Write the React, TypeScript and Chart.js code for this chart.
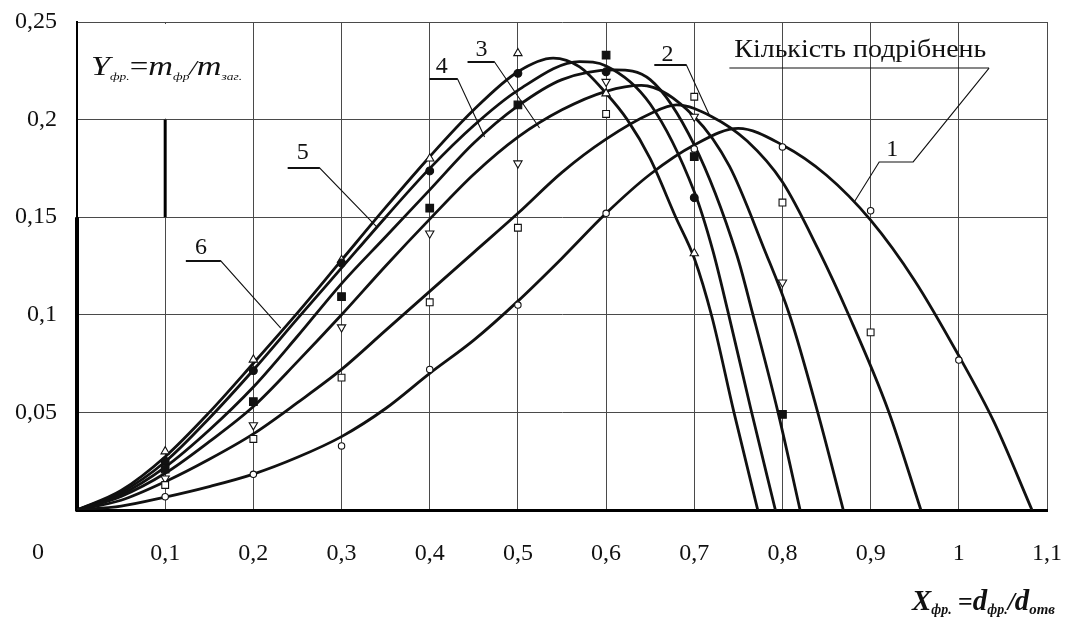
import React, { useEffect, useRef } from 'react';
import { Chart, registerables } from 'chart.js';

Chart.register(...registerables);

// ---------- fitted curves ----------
// curve 1 (one grinding) – open circles
const curve1X = [0, 0.05, 0.1, 0.15, 0.2, 0.25, 0.3, 0.35, 0.4, 0.45, 0.5, 0.55, 0.6, 0.65, 0.7, 0.75, 0.8, 0.85, 0.9, 0.95, 1.0, 1.04, 1.083];
const curve1Y = [0, 0.002, 0.0066, 0.012, 0.0184, 0.027, 0.0376, 0.052, 0.07, 0.087, 0.107, 0.129, 0.152, 0.172, 0.187, 0.1955, 0.187, 0.1715, 0.1485, 0.1175, 0.079, 0.045, 0];
// curve 2 – open squares
const curve2X = [0, 0.05, 0.1, 0.15, 0.2, 0.25, 0.3, 0.35, 0.4, 0.45, 0.5, 0.55, 0.6, 0.65, 0.68, 0.72, 0.76, 0.8, 0.84, 0.875, 0.92, 0.957];
const curve2Y = [0, 0.005, 0.0145, 0.026, 0.039, 0.055, 0.072, 0.092, 0.112, 0.132, 0.152, 0.173, 0.19, 0.203, 0.2075, 0.2015, 0.189, 0.168, 0.134, 0.1, 0.051, 0];
// curve 3 – open inverted triangles
const curve3X = [0, 0.05, 0.1, 0.15, 0.2, 0.25, 0.3, 0.35, 0.4, 0.45, 0.5, 0.55, 0.6, 0.64, 0.7, 0.74, 0.779, 0.808, 0.84, 0.869];
const curve3Y = [0, 0.007, 0.0188, 0.035, 0.053, 0.076, 0.1, 0.125, 0.149, 0.172, 0.191, 0.205, 0.2145, 0.2175, 0.2015, 0.176, 0.134, 0.1, 0.05, 0];
// curve 4 – filled squares
const curve4X = [0, 0.05, 0.1, 0.15, 0.2, 0.25, 0.3, 0.35, 0.4, 0.45, 0.5, 0.55, 0.61, 0.65, 0.7, 0.748, 0.766, 0.795, 0.82];
const curve4Y = [0, 0.008, 0.022, 0.041, 0.063, 0.089, 0.116, 0.14, 0.164, 0.188, 0.207, 0.2205, 0.2255, 0.2205, 0.187, 0.131, 0.101, 0.05, 0];
// curve 5 – filled circles
const curve5X = [0, 0.05, 0.1, 0.15, 0.2, 0.25, 0.3, 0.35, 0.4, 0.45, 0.5, 0.57, 0.6, 0.65, 0.7, 0.721, 0.738, 0.764, 0.792];
const curve5Y = [0, 0.009, 0.0247, 0.047, 0.0717, 0.098, 0.124, 0.15, 0.175, 0.197, 0.215, 0.2297, 0.2275, 0.208, 0.163, 0.133, 0.102, 0.052, 0];
// curve 6 – open triangles
const curve6X = [0, 0.05, 0.1, 0.15, 0.2, 0.25, 0.3, 0.35, 0.4, 0.45, 0.5, 0.54, 0.57, 0.6, 0.624, 0.65, 0.679, 0.7, 0.72, 0.745, 0.772];
const curve6Y = [0, 0.01, 0.0273, 0.05, 0.0752, 0.101, 0.128, 0.155, 0.181, 0.205, 0.2245, 0.2315, 0.227, 0.2135, 0.2, 0.18, 0.15, 0.129, 0.099, 0.05, 0];

// ---------- measured points ----------
const circleOpenX = [0.1, 0.2, 0.3, 0.4, 0.5, 0.6, 0.7, 0.8, 0.9, 1.0];
const circleOpenY = [0.0068, 0.0183, 0.0328, 0.072, 0.105, 0.152, 0.185, 0.186, 0.1533, 0.0768];
const squareOpenX = [0.1, 0.2, 0.3, 0.4, 0.5, 0.6, 0.7, 0.8, 0.9];
const squareOpenY = [0.0128, 0.0364, 0.0678, 0.1064, 0.1446, 0.2029, 0.2117, 0.1575, 0.091];
const triDownX = [0.1, 0.2, 0.3, 0.4, 0.5, 0.6, 0.7, 0.8];
const triDownY = [0.0162, 0.0435, 0.0936, 0.1417, 0.1776, 0.2194, 0.2015, 0.1166];
const squareFillX = [0.1, 0.2, 0.3, 0.4, 0.5, 0.6, 0.7, 0.8];
const squareFillY = [0.021, 0.0555, 0.1093, 0.1546, 0.2075, 0.233, 0.181, 0.049];
const circleFillX = [0.1, 0.2, 0.3, 0.4, 0.5, 0.6, 0.7];
const circleFillY = [0.025, 0.0714, 0.1265, 0.1737, 0.2237, 0.2245, 0.16];
const triUpX = [0.1, 0.2, 0.3, 0.4, 0.5, 0.6, 0.7];
const triUpY = [0.03, 0.077, 0.128, 0.18, 0.234, 0.2134, 0.1315];

// ---------- axis ticks ----------
const xMin = 0, xMax = 1.1, xStep = 0.1;
const yMin = 0, yMax = 0.25, yStep = 0.05;

// ---------- annotations (data coordinates) ----------
const curveLabels = ['1', '2', '3', '4', '5', '6'];
const curveLabelX = [0.9244, 0.6695, 0.4588, 0.4135, 0.256, 0.1405];
const curveLabelY = [0.1844, 0.2331, 0.2357, 0.227, 0.1829, 0.1342];
const leaderLines: number[][][] = [
  [[1.0343, 0.2264], [0.9482, 0.1783], [0.9097, 0.1783], [0.8814, 0.1578]],
  [[0.6548, 0.228], [0.6911, 0.228], [0.7171, 0.2024]],
  [[0.443, 0.2295], [0.4735, 0.2295], [0.5245, 0.1957]],
  [[0.3999, 0.2208], [0.4316, 0.2208], [0.4622, 0.1911]],
  [[0.239, 0.1752], [0.2753, 0.1752], [0.3399, 0.145]],
  [[0.1235, 0.1276], [0.163, 0.1276], [0.2311, 0.0932]],
  [[0.7398, 0.2264], [1.0343, 0.2264]],
];
const legendTitle = 'Кількість подрібнень';

const SERIF = '"Liberation Serif", "DejaVu Serif", serif';

function fmt(v: number): string {
  if (Math.abs(v) < 1e-9) return '';
  return String(Math.round(v * 100) / 100).replace('.', ',');
}

function pts(xs: number[], ys: number[]) {
  return xs.map((x, i) => ({ x, y: ys[i] }));
}

type Part = { t: string; font: string; dy: number };

function drawParts(ctx: CanvasRenderingContext2D, parts: Part[], x: number, baseline: number, width: number) {
  let total = 0;
  const ws = parts.map((p) => {
    ctx.font = p.font;
    const w = ctx.measureText(p.t).width;
    total += w;
    return w;
  });
  const sx = width / total;
  ctx.save();
  ctx.translate(x, baseline);
  ctx.scale(sx, 1);
  ctx.textBaseline = 'alphabetic';
  ctx.textAlign = 'left';
  ctx.fillStyle = '#111';
  let cx = 0;
  parts.forEach((p, i) => {
    ctx.font = p.font;
    ctx.fillText(p.t, cx, p.dy);
    cx += ws[i];
  });
  ctx.restore();
}

const decorPlugin = {
  id: 'decor',
  beforeDatasetsDraw(chart: any) {
    const { ctx } = chart;
    const xs = chart.scales.x;
    const ys = chart.scales.y;
    const px = (v: number) => xs.getPixelForValue(v);
    const py = (v: number) => ys.getPixelForValue(v);
    ctx.save();
    ctx.lineCap = 'butt';
    // gap in the 0,1 grid line behind the formula
    ctx.strokeStyle = '#fff';
    ctx.lineWidth = 3;
    ctx.beginPath();
    ctx.moveTo(px(0.1), py(0.25) + 2);
    ctx.lineTo(px(0.1), py(0.2) - 1);
    ctx.stroke();
    // heavy segment
    ctx.strokeStyle = '#000';
    ctx.lineWidth = 3;
    ctx.beginPath();
    ctx.moveTo(px(0.1), py(0.2));
    ctx.lineTo(px(0.1), py(0.15));
    ctx.stroke();
    // heavy lower part of the y axis
    ctx.lineWidth = 4;
    ctx.beginPath();
    ctx.moveTo(px(0), py(0.15));
    ctx.lineTo(px(0), py(0) + 1.5);
    ctx.stroke();
    ctx.restore();
  },
  afterDraw(chart: any) {
    const { ctx } = chart;
    const xs = chart.scales.x;
    const ys = chart.scales.y;
    const px = (v: number) => xs.getPixelForValue(v);
    const py = (v: number) => ys.getPixelForValue(v);
    ctx.save();
    // leader lines
    ctx.strokeStyle = '#111';
    ctx.lineWidth = 1.1;
    leaderLines.forEach((line) => {
      ctx.beginPath();
      line.forEach((p, i) => {
        if (i === 0) ctx.moveTo(px(p[0]), py(p[1]));
        else ctx.lineTo(px(p[0]), py(p[1]));
      });
      ctx.stroke();
    });
    // underlines of numbers are heavier
    ctx.lineWidth = 2;
    leaderLines.slice(1, 6).forEach((line) => {
      ctx.beginPath();
      ctx.moveTo(px(line[0][0]), py(line[0][1]));
      ctx.lineTo(px(line[1][0]), py(line[1][1]));
      ctx.stroke();
    });
    // numbers
    ctx.fillStyle = '#111';
    ctx.textAlign = 'center';
    ctx.textBaseline = 'middle';
    ctx.font = `24px ${SERIF}`;
    curveLabels.forEach((t, i) => {
      ctx.fillText(t, px(curveLabelX[i]), py(curveLabelY[i]));
    });
    // legend title
    ctx.font = `25px ${SERIF}`;
    const tw = ctx.measureText(legendTitle).width;
    ctx.save();
    ctx.translate(px(0.7454), py(0.2228) - 18);
    ctx.scale(252 / tw, 1);
    ctx.textAlign = 'left';
    ctx.textBaseline = 'alphabetic';
    ctx.fillText(legendTitle, 0, 0);
    ctx.restore();
    // origin label
    ctx.font = `24px ${SERIF}`;
    ctx.textAlign = 'center';
    ctx.textBaseline = 'middle';
    ctx.fillText('0', px(0) - 39, ys.bottom + 43);
    // Y formula
    const it = (s: number) => `italic ${s}px ${SERIF}`;
    const bi = (s: number) => `italic bold ${s}px ${SERIF}`;
    drawParts(ctx, [
      { t: 'Y', font: it(28), dy: 0 },
      { t: 'фр.', font: it(11), dy: 5 },
      { t: '=', font: `27px ${SERIF}`, dy: 0 },
      { t: 'm', font: it(28), dy: 0 },
      { t: 'фр', font: it(11), dy: 5 },
      { t: '/', font: it(22), dy: 0 },
      { t: 'm', font: it(28), dy: 0 },
      { t: 'заг.', font: it(11), dy: 5 },
    ], px(0) + 14, py(0.25) + 53, 151);
    // X formula
    drawParts(ctx, [
      { t: 'X', font: bi(29), dy: 0 },
      { t: 'фр.', font: bi(14), dy: 4 },
      { t: ' =', font: `bold 26px ${SERIF}`, dy: 0 },
      { t: 'd', font: bi(29), dy: 0 },
      { t: 'фр.', font: bi(14), dy: 4 },
      { t: '/', font: bi(26), dy: 0 },
      { t: 'd', font: bi(29), dy: 0 },
      { t: 'отв', font: bi(15), dy: 4 },
    ], px(1.1) - 135, ys.bottom + 100, 143);
    ctx.restore();
  },
};

export default function App() {
  const ref = useRef<HTMLCanvasElement | null>(null);

  useEffect(() => {
    if (!ref.current) return;
    const curveSets = [
      [curve1X, curve1Y],
      [curve2X, curve2Y],
      [curve3X, curve3Y],
      [curve4X, curve4Y],
      [curve5X, curve5Y],
      [curve6X, curve6Y],
    ].map(([xs, ys], i) => ({
      label: `curve ${i + 1}`,
      data: pts(xs, ys),
      showLine: true,
      borderColor: '#111',
      borderWidth: 2.8,
      pointRadius: 0,
      pointHoverRadius: 0,
      cubicInterpolationMode: 'monotone' as const,
      fill: false,
      order: 2,
    }));
    const markerSet = (label: string, xs: number[], ys: number[], style: string, radius: number, filled: boolean, rotation = 0) => ({
      label,
      data: pts(xs, ys),
      showLine: false,
      pointStyle: style,
      pointRadius: radius,
      pointHoverRadius: radius,
      pointRotation: rotation,
      pointBackgroundColor: filled ? '#111' : '#fff',
      pointBorderColor: '#111',
      pointBorderWidth: 1.1,
      order: 1,
    });
    const markers = [
      markerSet('○', circleOpenX, circleOpenY, 'circle', 3.2, false),
      markerSet('□', squareOpenX, squareOpenY, 'rect', 4.8, false),
      markerSet('▽', triDownX, triDownY, 'triangle', 4.8, false, 180),
      markerSet('■', squareFillX, squareFillY, 'rect', 5.4, true),
      markerSet('●', circleFillX, circleFillY, 'circle', 3.9, true),
      markerSet('△', triUpX, triUpY, 'triangle', 4.8, false),
    ];

    const chart = new Chart(ref.current, {
      type: 'scatter',
      data: { datasets: [...markers, ...curveSets] as any },
      plugins: [decorPlugin as any],
      options: {
        animation: false,
        responsive: false,
        maintainAspectRatio: false,
        events: [],
        layout: { padding: { left: 0, right: 19, top: 22, bottom: 0 } },
        plugins: {
          legend: { display: false },
          tooltip: { enabled: false },
        },
        scales: {
          x: {
            type: 'linear',
            min: xMin,
            max: xMax,
            afterFit: (s: any) => { s.height = 113; s.paddingLeft = 0; s.paddingRight = 0; },
            ticks: {
              stepSize: xStep,
              padding: 29,
              color: '#111',
              font: { family: SERIF, size: 24 },
              callback: (v: any) => fmt(Number(v)),
              autoSkip: false,
              maxRotation: 0,
            },
            grid: { color: '#4a4a4a', lineWidth: 1, drawTicks: false },
            border: { display: true, color: '#000', width: 3 },
          },
          y: {
            type: 'linear',
            min: yMin,
            max: yMax,
            afterFit: (s: any) => { s.width = 77; s.paddingTop = 0; s.paddingBottom = 0; },
            ticks: {
              stepSize: yStep,
              padding: 20,
              color: '#111',
              font: { family: SERIF, size: 24 },
              callback: (v: any) => fmt(Number(v)),
            },
            grid: { color: '#4a4a4a', lineWidth: 1, drawTicks: false },
            border: { display: true, color: '#000', width: 2 },
          },
        },
      },
    });
    return () => chart.destroy();
  }, []);

  return (
    <div style={{ position: 'absolute', left: 0, top: 0, width: 1066, height: 623, background: '#fff' }}>
      <canvas ref={ref} width={1066} height={623} style={{ display: 'block' }} />
    </div>
  );
}
